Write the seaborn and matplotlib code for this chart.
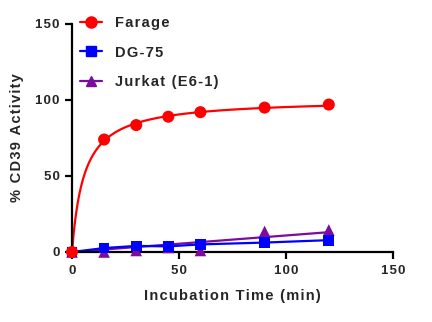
import numpy as np
import pandas as pd
import matplotlib
matplotlib.use("Agg")
import matplotlib.pyplot as plt
import seaborn as sns
from matplotlib.lines import Line2D

# ---- data ----
time_min = [0, 15, 30, 45, 60, 90, 120]
farage = [0, 74, 83.5, 89, 92, 95, 97]
dg75 = [0, 2.6, 4, 3.7, 5, 6.2, 7.8]
jurkat = [0, 0, 1, 3, 1, 13.5, 14.5]
series_names = ["Farage", "DG-75", "Jurkat (E6-1)"]
x_ticks = [0, 50, 100, 150]
y_ticks = [0, 50, 100, 150]
x_label = "Incubation Time (min)"
y_label = "% CD39 Activity"

RED = "#ff0000"
BLUE = "#0000ff"
PURPLE = "#7b0c9c"

sns.set_theme(style="ticks")
plt.rcParams["font.family"] = ["Liberation Sans", "DejaVu Sans"]
plt.rcParams["font.weight"] = "bold"

def spaced(s):
    return "\u200a".join(list(s))

fig = plt.figure(figsize=(4.32, 3.22), dpi=100)
ax = fig.add_axes([72/432, 1 - 252/322, (393 - 72)/432, (252 - 24)/322])

x = np.array(time_min, dtype=float)

# Hyperbolic fit (Vmax*x/(K+x)) for Farage via least squares over K
yf = np.array(farage, dtype=float)
best = None
for K in np.linspace(0.5, 30, 600):
    g = x / (K + x)
    vmax = (g @ yf) / (g @ g)
    err = np.sum((vmax * g - yf) ** 2)
    if best is None or err < best[0]:
        best = (err, K, vmax)
_, Kf, Vf = best
xs = np.linspace(0, 120, 400)
fit_far = pd.DataFrame({"x": xs, "y": Vf * xs / (Kf + xs)})

# Linear fit through origin for Jurkat
yj = np.array(jurkat, dtype=float)
slope = (x @ yj) / (x @ x)
fit_jur = pd.DataFrame({"x": [0, 120], "y": [0, slope * 120]})

df = pd.DataFrame({"t": time_min, "Farage": farage, "DG-75": dg75, "Jurkat": jurkat})

sns.lineplot(data=fit_jur, x="x", y="y", color=PURPLE, lw=1.6, ax=ax)
sns.lineplot(data=df, x="t", y="DG-75", color=BLUE, lw=1.6, ax=ax)
sns.lineplot(data=fit_far, x="x", y="y", color=RED, lw=1.6, ax=ax)

for col, c, m, s in [("Jurkat", PURPLE, "^", 70), ("DG-75", BLUE, "s", 60), ("Farage", RED, "o", 75)]:
    sns.scatterplot(data=df, x="t", y=col, color=c, marker=m, s=s,
                    edgecolor="none", ax=ax, zorder=5, clip_on=False)

ax.set_xlim(0, 150)
ax.set_ylim(0, 150)
ax.set_xticks(x_ticks)
ax.set_yticks(y_ticks)
ax.set_xticklabels([spaced(str(v)) for v in x_ticks], fontsize=9.5, fontweight="bold")
ax.set_yticklabels([spaced(str(v)) for v in y_ticks], fontsize=9.5, fontweight="bold")
ax.set_xlabel(spaced(x_label), fontsize=10.5, fontweight="bold", labelpad=9)
ax.set_ylabel(spaced(y_label), fontsize=10.5, fontweight="bold", labelpad=8)
for sp in ["top", "right"]:
    ax.spines[sp].set_visible(False)
for sp in ["left", "bottom"]:
    ax.spines[sp].set_linewidth(1.6)
    ax.spines[sp].set_color("black")
ax.tick_params(axis="both", width=1.6, length=5, color="black", pad=4)
ax.set_facecolor("white")

handles = [
    Line2D([], [], color=RED, marker="o", markersize=8, lw=1.6),
    Line2D([], [], color=BLUE, marker="s", markersize=7, lw=1.6),
    Line2D([], [], color=PURPLE, marker="^", markersize=7.5, lw=1.6),
]
ax.legend(handles, [spaced(n) for n in series_names], loc="upper left",
          bbox_to_anchor=(74/432, 1 - 10/322), bbox_transform=fig.transFigure,
          frameon=False, prop={"weight": "bold", "size": 10.5},
          handlelength=1.5, handletextpad=0.9, labelspacing=1.08, borderaxespad=0)

fig.savefig("out.png", dpi=100, facecolor="white")
